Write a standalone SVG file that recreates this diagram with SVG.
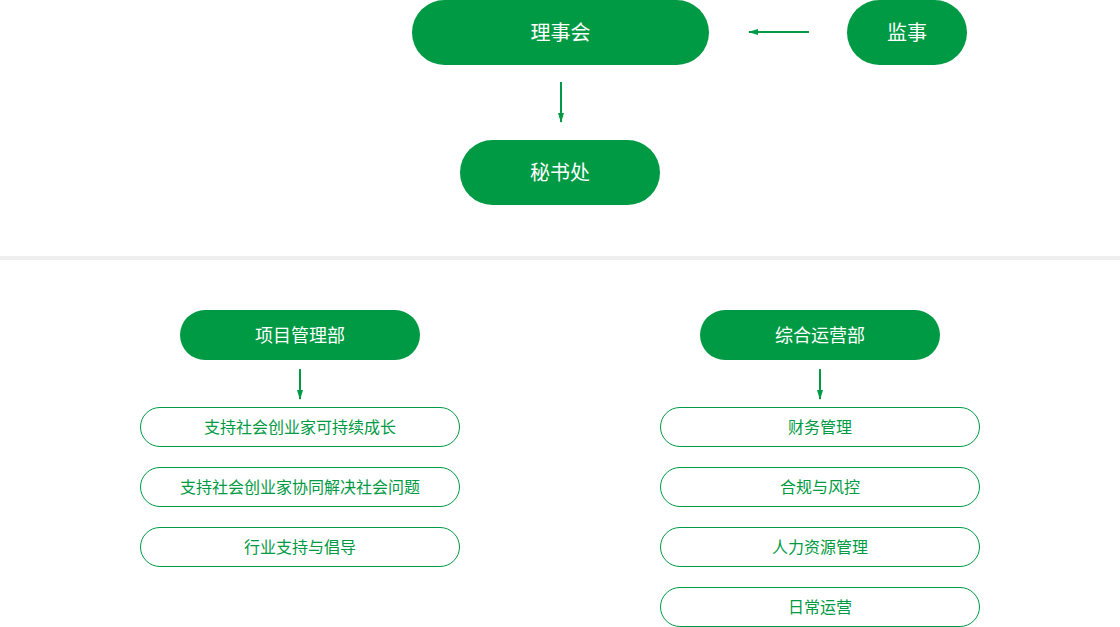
<svg xmlns="http://www.w3.org/2000/svg" width="1120" height="627" viewBox="0 0 1120 627">
<style>
.solid{fill:#009a44}
.wt{fill:#fff;font-family:"Noto Sans CJK SC","Noto Sans",sans-serif;text-anchor:middle;dominant-baseline:central}
.big{font-size:20px}
.mid{font-size:18px}
.item{fill:#fff;stroke:#009a44;stroke-width:1}
.gt{fill:#009a44;font-family:"Noto Sans CJK SC","Noto Sans",sans-serif;font-size:16px;text-anchor:middle;dominant-baseline:central}
.ln{stroke:#009a44;stroke-width:2;fill:none;marker-end:url(#ah)}
</style>
<defs>
<marker id="ah" viewBox="0 0 10 6" refX="9" refY="3" markerWidth="5" markerHeight="3" orient="auto" markerUnits="strokeWidth">
<path d="M0,0 L10,3 L0,6 z" fill="#009a44"/>
</marker>
</defs>
<rect x="0" y="0" width="1120" height="627" fill="#fff"/>
<rect x="0" y="256" width="1120" height="4" fill="#eeeeee"/>
<g id="connectors">
<line class="ln" x1="809" y1="32" x2="749" y2="32"/>
<line class="ln" x1="561" y1="82" x2="561" y2="122"/>
<line class="ln" x1="300" y1="369" x2="300" y2="399"/>
<line class="ln" x1="820" y1="369" x2="820" y2="399"/>
</g>
<g id="n-lishihui"><rect class="solid" x="412" y="0" width="297" height="65" rx="32.5"/><text class="wt big" x="560.5" y="31.5">理事会</text></g>
<g id="n-jianshi"><rect class="solid" x="847" y="0" width="120" height="65" rx="32.5"/><text class="wt big" x="907" y="31.5">监事</text></g>
<g id="n-mishuchu"><rect class="solid" x="460" y="140" width="200" height="65" rx="32.5"/><text class="wt big" x="560" y="171.5">秘书处</text></g>
<g id="n-xiangmu"><rect class="solid" x="180" y="310" width="240" height="50" rx="25"/><text class="wt mid" x="300" y="334">项目管理部</text></g>
<g id="n-zonghe"><rect class="solid" x="700" y="310" width="240" height="50" rx="25"/><text class="wt mid" x="820" y="334">综合运营部</text></g>
<g id="n-l1"><rect class="item" x="140.5" y="407.5" width="319" height="39" rx="19.5"/><text class="gt" x="300" y="426">支持社会创业家可持续成长</text></g>
<g id="n-l2"><rect class="item" x="140.5" y="467.5" width="319" height="39" rx="19.5"/><text class="gt" x="300" y="486">支持社会创业家协同解决社会问题</text></g>
<g id="n-l3"><rect class="item" x="140.5" y="527.5" width="319" height="39" rx="19.5"/><text class="gt" x="300" y="546">行业支持与倡导</text></g>
<g id="n-r1"><rect class="item" x="660.5" y="407.5" width="319" height="39" rx="19.5"/><text class="gt" x="820" y="426">财务管理</text></g>
<g id="n-r2"><rect class="item" x="660.5" y="467.5" width="319" height="39" rx="19.5"/><text class="gt" x="820" y="486">合规与风控</text></g>
<g id="n-r3"><rect class="item" x="660.5" y="527.5" width="319" height="39" rx="19.5"/><text class="gt" x="820" y="546">人力资源管理</text></g>
<g id="n-r4"><rect class="item" x="660.5" y="587.5" width="319" height="39" rx="19.5"/><text class="gt" x="820" y="606">日常运营</text></g>
</svg>
